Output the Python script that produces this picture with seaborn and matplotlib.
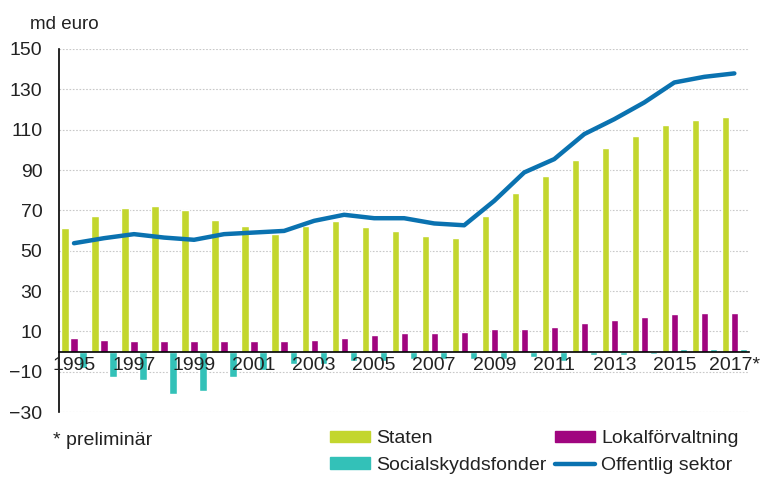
import numpy as np
import pandas as pd
import matplotlib
matplotlib.use("Agg")
import matplotlib.pyplot as plt
import seaborn as sns
from matplotlib.patches import Patch
from matplotlib.lines import Line2D

# data (md euro)
years = [str(y) for y in range(1995, 2018)]
year_labels = [y if int(y) % 2 == 1 else "" for y in years]
year_labels[-1] = "2017*"

staten = [61, 67, 71, 72, 70, 65, 62.3, 58.5, 62.3, 64.8, 61.5, 59.8, 57.4, 56.5,
          67, 78.8, 87.1, 94.9, 100.7, 106.9, 112.4, 114.9, 116.5]
lokal = [6.6, 5.8, 5.1, 5.1, 5.1, 5.1, 5.1, 5.1, 5.8, 6.6, 8.3, 9.1, 9.1, 9.9,
         11.4, 11.4, 12.2, 13.9, 15.5, 17.2, 18.5, 19.3, 19.3]
social = [-8, -12.6, -14.2, -21, -19.5, -12.6, -9.3, -6.3, -6.3, -4.6, -4.6, -3.8,
          -3.8, -3.8, -3.8, -2.6, -4.6, -1.8, -1.8, -1.0, 1.2, 1.2, 1.2]
offentlig = [53.7, 56.2, 58.2, 56.5, 55.4, 58.2, 59, 59.8, 64.8, 67.8, 66.1, 66.1,
             63.5, 62.6, 74.7, 88.8, 95.4, 107.8, 115.2, 123.5, 133.4, 136.2, 137.9]

series_names = ["Staten", "Lokalförvaltning", "Socialskyddsfonder"]
colors = {"Staten": "#c3d62e", "Lokalförvaltning": "#a0057f",
          "Socialskyddsfonder": "#33c1b8"}
line_color = "#0a72b0"
text_color = "#222222"

df = pd.DataFrame({"year": years * 3,
                   "serie": np.repeat(series_names, len(years)),
                   "value": staten + lokal + social})
df_line = pd.DataFrame({"year": years, "value": offentlig})

sns.set_style("white")
plt.rcParams["font.family"] = ["Liberation Sans", "DejaVu Sans"]

fig = plt.figure(figsize=(7.62, 4.78), dpi=100)
ax = fig.add_axes([0.0774, 0.138, 0.906, 0.7595])

sns.barplot(data=df, x="year", y="value", hue="serie", order=years,
            hue_order=series_names, palette=colors, width=0.9, gap=0.2,
            saturation=1, legend=False, ax=ax)
sns.pointplot(data=df_line, x="year", y="value", order=years, color=line_color,
              errorbar=None, marker="", linewidth=3.2, ax=ax)

ax.set_ylim(-30, 150)
ax.set_xlim(-0.5, len(years) - 0.5)
ax.set_yticks(np.arange(-30, 151, 20))
ax.yaxis.grid(True, linestyle=(0, (1.5, 1.5)), color="#c8c8c8", linewidth=0.8)
ax.set_axisbelow(True)
# year labels sit on top of the negative bars, as in the original
ax.xaxis.set_zorder(3)

ax.spines["top"].set_visible(False)
ax.spines["right"].set_visible(False)
ax.spines["left"].set_color("black")
ax.spines["left"].set_linewidth(1.2)
ax.spines["bottom"].set_position(("data", 0))
ax.spines["bottom"].set_color("black")
ax.spines["bottom"].set_linewidth(1.2)

ax.set_xticks(range(len(years)))
ax.set_xticklabels(year_labels)
ax.tick_params(axis="x", length=0, pad=4, labelsize=14, colors=text_color)
ax.tick_params(axis="y", length=0, pad=12, labelsize=14, colors=text_color)
ax.set_xlabel("")
ax.set_ylabel("")

fig.text(0.039, 0.948, "md euro", fontsize=13.5, color=text_color, va="center")
fig.text(0.070, 0.079, "* preliminär", fontsize=14, color=text_color, va="center")

handles = [Patch(color=colors["Staten"]),
           Patch(color=colors["Socialskyddsfonder"]),
           Patch(color=colors["Lokalförvaltning"]),
           Line2D([], [], color=line_color, linewidth=3.2)]
labels = ["Staten", "Socialskyddsfonder", "Lokalförvaltning", "Offentlig sektor"]
fig.legend(handles, labels, ncol=2, loc="center left",
           bbox_to_anchor=(0.433, 0.054), frameon=False, fontsize=14,
           handlelength=2.05, handleheight=0.55, handletextpad=0.35,
           columnspacing=0.4, labelspacing=0.5, borderpad=0, borderaxespad=0,
           labelcolor=text_color)

fig.savefig("out.png", dpi=100)
